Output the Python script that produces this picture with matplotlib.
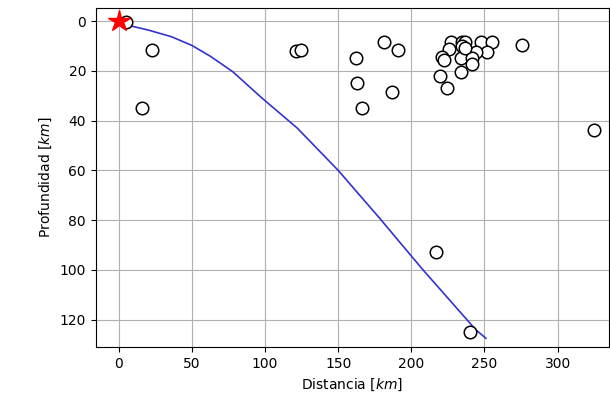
import matplotlib
matplotlib.use("Agg")
import matplotlib.pyplot as plt

# sismos: distancia y profundidad [km]
dist = [5, 23, 16, 121, 124.5, 162, 181, 191, 163, 166, 187, 275.6, 325, 217, 240,
        227, 235, 237, 247.4, 255, 252, 244, 225.8, 220.8, 222.4, 233.8, 241.7,
        241.3, 233.8, 219.4, 224.6, 234.6, 236.7]
prof = [0.5, 11.6, 35, 12, 11.5, 14.8, 8.4, 11.6, 25, 35, 28.5, 9.6, 43.8, 93, 125,
        8.3, 8.3, 8.3, 8.3, 8.3, 12.3, 12.3, 11.2, 14.3, 15.7, 15, 15,
        17.4, 20.4, 22, 27, 10, 10.8]

# perfil de la placa
slab_x = [2, 4, 20, 36, 50, 63, 78, 98, 122, 150, 178, 208, 244, 251]
slab_y = [1.2, 1.4, 3.6, 6.3, 9.8, 14.3, 20.4, 31, 43, 60, 79, 100, 124, 127.5]

fig = plt.figure(figsize=(6.1, 4.04), dpi=100)
ax = fig.add_axes([0.157, 0.141, 0.841, 0.839])

ax.plot(slab_x, slab_y, color='#3333cc', lw=1.2, zorder=2)
ax.plot(dist, prof, 'o', ms=9, mfc='white', mec='black', mew=1.1, zorder=3)
ax.plot(0, 0, '*', ms=16, color='red', zorder=4)

ax.set_xlim(-15.7, 335)
ax.set_ylim(131, -5.2)
ax.set_xticks([0, 50, 100, 150, 200, 250, 300])
ax.set_yticks([0, 20, 40, 60, 80, 100, 120])
ax.set_xlabel('Distancia [$km$]')
ax.set_ylabel('Profundidad [$km$]')
ax.grid(True)
ax.set_axisbelow(True)

fig.savefig('out.png', dpi=100)
